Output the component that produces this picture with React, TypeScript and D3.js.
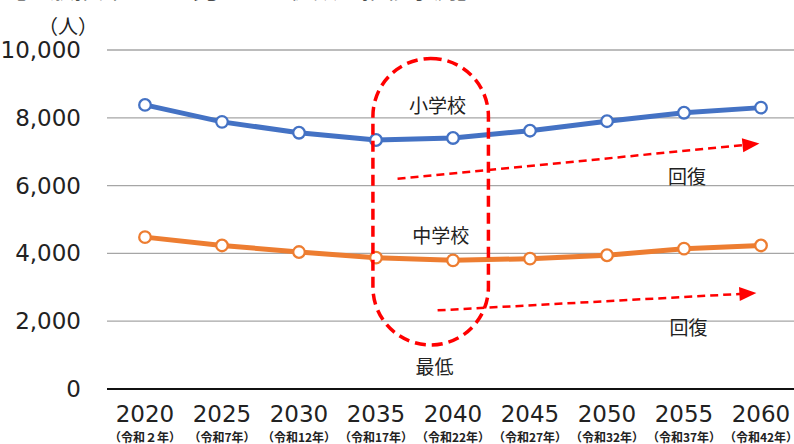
import { useEffect } from "react";
import * as d3 from "d3";

const years = [2020, 2025, 2030, 2035, 2040, 2045, 2050, 2055, 2060];
const eraLabels = [
  "（令和２年）",
  "（令和7年）",
  "（令和12年）",
  "（令和17年）",
  "（令和22年）",
  "（令和27年）",
  "（令和32年）",
  "（令和37年）",
  "（令和42年）",
];
const elementary = [8380, 7880, 7560, 7345, 7405, 7620, 7900, 8150, 8300];
const juniorHigh = [4480, 4235, 4040, 3875, 3795, 3845, 3945, 4140, 4235];
const yTicks = [0, 2000, 4000, 6000, 8000, 10000];

const width = 794;
const height = 444;
const margin = { top: 50, right: 0, bottom: 55, left: 107 };

const font = "'DejaVu Sans', 'Noto Sans CJK JP', sans-serif";
const jpFont = "'Noto Sans CJK JP', sans-serif";

export default function App() {
  useEffect(() => {
    document.body.style.margin = "0";
  }, []);

  const x = d3.scaleLinear().domain([2020, 2060]).range([145, 761]);
  const y = d3
    .scaleLinear()
    .domain([0, 10000])
    .range([height - margin.bottom, margin.top]);

  const line = d3
    .line<number>()
    .x((_, i) => x(years[i]))
    .y((d) => y(d));

  const series = [
    { values: elementary, color: "#4472C4" },
    { values: juniorHigh, color: "#ED7D31" },
  ];

  // red dashed "lowest" capsule around 2035-2040
  const capX0 = x(2034.8);
  const capX1 = x(2042.3);
  const capY0 = y(9750);
  const capY1 = y(1300);

  const arrows = [
    { from: [2036.4, 6200], to: [2059.9, 7240] },
    { from: [2039, 2320], to: [2059.7, 2830] },
  ];

  const arrowHead = (x0: number, y0: number, x1: number, y1: number) => {
    const a = Math.atan2(y1 - y0, x1 - x0);
    const len = 17;
    const half = 7;
    const bx = x1 - len * Math.cos(a);
    const by = y1 - len * Math.sin(a);
    const px = -Math.sin(a) * half;
    const py = Math.cos(a) * half;
    return `M${x1},${y1}L${bx + px},${by + py}L${bx - px},${by - py}Z`;
  };

  return (
    <svg width={width} height={height} style={{ display: "block" }}>
      <rect width={width} height={height} fill="#fff" />

      {/* title, mostly cut off at the top */}
      <text x={2} y={-2.5} fontFamily={jpFont} fontSize={24} fill="#222">
        【一般推計による児童・生徒数の推移予測】
      </text>

      <text
        x={68}
        y={25}
        fontFamily={jpFont}
        fontSize={20}
        textAnchor="middle"
        dominantBaseline="central"
        fill="#222"
      >
        （人）
      </text>

      {/* gridlines + y labels */}
      {yTicks.map((t) => (
        <g key={t}>
          <line
            x1={margin.left}
            x2={width}
            y1={y(t)}
            y2={y(t)}
            stroke={t === 0 ? "#111" : "#A6A6A6"}
            strokeWidth={t === 0 ? 2 : 1.3}
          />
          <text
            x={81}
            y={y(t)}
            textAnchor="end"
            dominantBaseline="central"
            fontFamily={font}
            fontSize={23}
            fill="#222"
          >
            {d3.format(",")(t)}
          </text>
        </g>
      ))}

      {/* x labels */}
      {years.map((yr, i) => (
        <g key={yr}>
          <text
            x={x(yr)}
            y={414}
            textAnchor="middle"
            dominantBaseline="central"
            fontFamily={font}
            fontSize={23}
            fill="#222"
          >
            {yr}
          </text>
          <text
            x={x(yr)}
            y={436}
            textAnchor="middle"
            dominantBaseline="central"
            fontFamily={jpFont}
            fontSize={12}
            fontWeight={700}
            fill="#222"
          >
            {eraLabels[i]}
          </text>
        </g>
      ))}

      {/* series */}
      {series.map((s) => (
        <g key={s.color}>
          <path
            d={line(s.values) ?? ""}
            fill="none"
            stroke={s.color}
            strokeWidth={5}
            strokeLinejoin="round"
          />
          {s.values.map((v, i) => (
            <circle
              key={i}
              cx={x(years[i])}
              cy={y(v)}
              r={5.8}
              fill="#fff"
              stroke={s.color}
              strokeWidth={2.3}
            />
          ))}
        </g>
      ))}

      {/* annotations */}
      <rect
        x={capX0}
        y={capY0}
        width={capX1 - capX0}
        height={capY1 - capY0}
        rx={(capX1 - capX0) / 2}
        ry={(capX1 - capX0) / 2}
        fill="none"
        stroke="#FF0000"
        strokeWidth={3.5}
        strokeDasharray="11 6"
      />

      {arrows.map((a, i) => {
        const x0 = x(a.from[0]);
        const y0 = y(a.from[1]);
        const x1 = x(a.to[0]);
        const y1 = y(a.to[1]);
        const ang = Math.atan2(y1 - y0, x1 - x0);
        return (
          <g key={i}>
            <line
              x1={x0}
              y1={y0}
              x2={x1 - 14 * Math.cos(ang)}
              y2={y1 - 14 * Math.sin(ang)}
              stroke="#FF0000"
              strokeWidth={2.5}
              strokeDasharray="8 5"
            />
            <path d={arrowHead(x0, y0, x1, y1)} fill="#FF0000" />
          </g>
        );
      })}

      {[
        { t: "小学校", yr: 2039, v: 8400 },
        { t: "中学校", yr: 2039.2, v: 4550 },
        { t: "最低", yr: 2038.8, v: 700 },
        { t: "回復", yr: 2055.2, v: 6300 },
        { t: "回復", yr: 2055.3, v: 1850 },
      ].map((l, i) => (
        <text
          key={i}
          x={x(l.yr)}
          y={y(l.v)}
          textAnchor="middle"
          dominantBaseline="central"
          fontFamily={jpFont}
          fontSize={19}
          fill="#222"
        >
          {l.t}
        </text>
      ))}
    </svg>
  );
}
